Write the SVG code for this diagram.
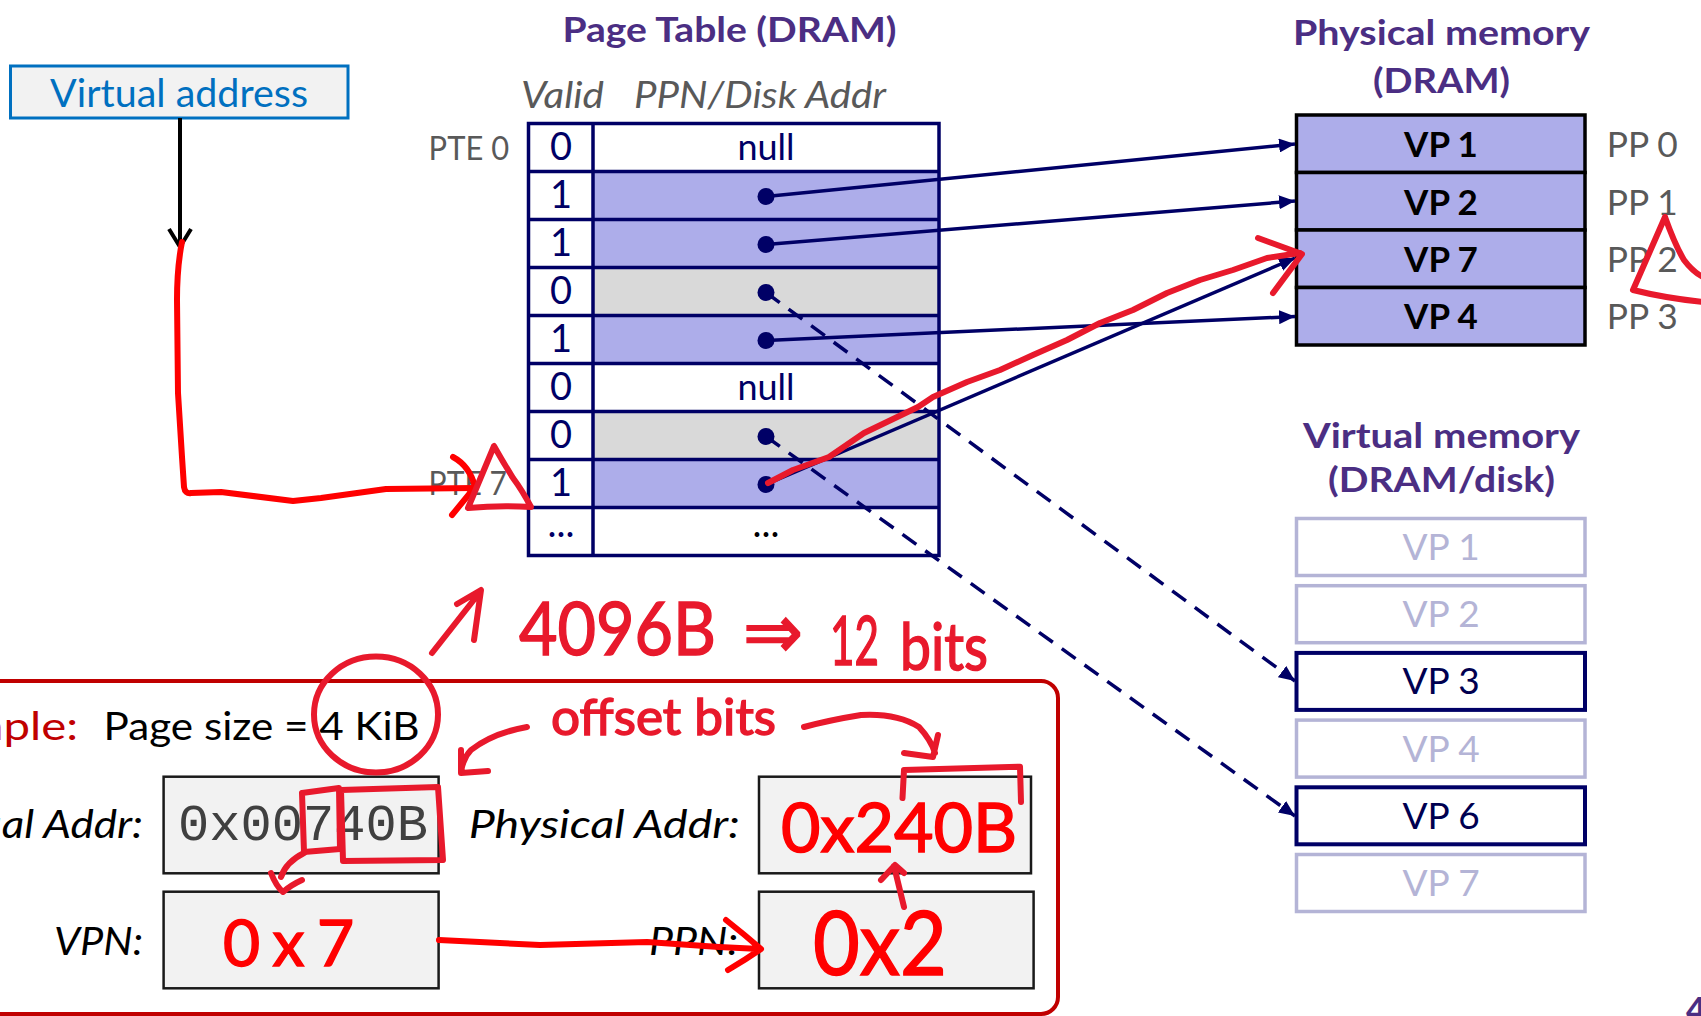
<svg xmlns="http://www.w3.org/2000/svg" width="1701" height="1016" viewBox="0 0 1701 1016">
<defs>
<style>
text{font-family:Lato,'Open Sans','DejaVu Sans',sans-serif}
.ttl{font-weight:700;fill:#4b2e83;font-size:35px}
.hdr{font-style:italic;font-size:37px;fill:#595959}
.pte{font-size:32px;fill:#595959}
.dig{font-size:38px;fill:#000066;text-anchor:middle}
.nul{font-size:36px;fill:#000066;text-anchor:middle}
.cell{fill:none;stroke:#000066;stroke-width:3.5}
.lav{fill:#adadea}
.gry{fill:#d9d9d9}
.pm{fill:#adadea;stroke:#000;stroke-width:3.5}
.pml{font-size:35px;font-weight:700;fill:#000;text-anchor:middle}
.ppl{font-size:35px;fill:#595959}
.vmf{fill:#fff;stroke:#b4b4d6;stroke-width:3.5}
.vmd{fill:#fff;stroke:#000066;stroke-width:4}
.vmft{font-size:37px;fill:#b4b4d6;text-anchor:middle}
.vmdt{font-size:37px;fill:#000050;text-anchor:middle}
.lnk{stroke:#000066;stroke-width:3.5;fill:none}
.dash{stroke-dasharray:17 11}
.ex{font-size:39px;fill:#000}
.exi{font-size:39px;font-style:italic;fill:#000}
.abox{fill:#f2f2f2;stroke:#1a1a1a;stroke-width:2.5}
.pen{fill:none;stroke:#e8192c;stroke-width:6;stroke-linecap:round;stroke-linejoin:round}
.pen2{fill:none;stroke:#ff0000;stroke-width:6;stroke-linecap:round;stroke-linejoin:round}
.hw{fill:#e8192c;stroke:#e8192c;stroke-width:1.5}
.hw2{fill:#ff0000;stroke:#ff0000;stroke-width:1.5}
</style>
<marker id="ah" viewBox="0 0 16 14" markerWidth="16" markerHeight="14" refX="16" refY="7" orient="auto" markerUnits="userSpaceOnUse"><path d="M0,0 L16,7 L0,14 Z" fill="#000066"/></marker>
</defs>
<rect width="1701" height="1016" fill="#fff"/>

<g id="virtual-address">
<rect x="10.5" y="66" width="337.5" height="52" fill="#f2f2f2" stroke="#0070c0" stroke-width="3"/>
<text x="50" y="106.5" font-size="38" fill="#0070c0" textLength="258" lengthAdjust="spacingAndGlyphs">Virtual address</text>
</g>

<g id="page-table">
<text class="ttl" x="562.5" y="42" textLength="334" lengthAdjust="spacingAndGlyphs">Page Table (DRAM)</text>
<text class="hdr" x="521" y="108" textLength="83" lengthAdjust="spacingAndGlyphs">Valid</text>
<text class="hdr" x="634" y="108" textLength="252" lengthAdjust="spacingAndGlyphs">PPN/Disk Addr</text>
<text class="pte" x="428.6" y="160" textLength="80.5" lengthAdjust="spacingAndGlyphs">PTE 0</text>
<text class="pte" x="428.6" y="495" textLength="78.5" lengthAdjust="spacingAndGlyphs">PTE 7</text>
<rect x="528.5" y="123.5" width="410.5" height="432" fill="#fff"/>
<rect class="lav" x="593" y="171.5" width="346" height="48"/>
<rect class="lav" x="593" y="219.5" width="346" height="48"/>
<rect class="gry" x="593" y="267.5" width="346" height="48"/>
<rect class="lav" x="593" y="315.5" width="346" height="48"/>
<rect class="gry" x="593" y="411.5" width="346" height="48"/>
<rect class="lav" x="593" y="459.5" width="346" height="48"/>
<rect class="cell" x="528.5" y="123.5" width="410.5" height="432"/>
<path class="cell" d="M593,123.5V555.5 M528.5,171.5H939 M528.5,219.5H939 M528.5,267.5H939 M528.5,315.5H939 M528.5,363.5H939 M528.5,411.5H939 M528.5,459.5H939 M528.5,507.5H939"/>
<text class="dig" x="561" y="160">0</text>
<text class="dig" x="561" y="208">1</text>
<text class="dig" x="561" y="256">1</text>
<text class="dig" x="561" y="304">0</text>
<text class="dig" x="561" y="352">1</text>
<text class="dig" x="561" y="400">0</text>
<text class="dig" x="561" y="448">0</text>
<text class="dig" x="561" y="496">1</text>
<text class="dig" x="561" y="537">...</text>
<text class="nul" x="766" y="160">null</text>
<text class="nul" x="766" y="400">null</text>
<text x="766" y="537" font-size="38" fill="#000" text-anchor="middle">...</text>
<g fill="#000066">
<circle cx="766" cy="196.5" r="8.5"/>
<circle cx="766" cy="244.5" r="8.5"/>
<circle cx="766" cy="292.5" r="8.5"/>
<circle cx="766" cy="340.5" r="8.5"/>
<circle cx="766" cy="436.5" r="8.5"/>
<circle cx="766" cy="484.5" r="8.5"/>
</g>
</g>

<g id="physical-memory">
<text class="ttl" x="1293" y="45" textLength="297" lengthAdjust="spacingAndGlyphs">Physical memory</text>
<text class="ttl" x="1373" y="93" textLength="137" lengthAdjust="spacingAndGlyphs">(DRAM)</text>
<rect class="pm" x="1296.5" y="115" width="288.5" height="57.5"/>
<rect class="pm" x="1296.5" y="172.5" width="288.5" height="57.5"/>
<rect class="pm" x="1296.5" y="230" width="288.5" height="57.5"/>
<rect class="pm" x="1296.5" y="287.5" width="288.5" height="57.5"/>
<text class="pml" x="1441" y="157">VP 1</text>
<text class="pml" x="1441" y="214.5">VP 2</text>
<text class="pml" x="1441" y="272">VP 7</text>
<text class="pml" x="1441" y="329">VP 4</text>
<text class="ppl" x="1606.7" y="157" textLength="71" lengthAdjust="spacingAndGlyphs">PP 0</text>
<text class="ppl" x="1606.7" y="215" textLength="71" lengthAdjust="spacingAndGlyphs">PP 1</text>
<text class="ppl" x="1606.7" y="272" textLength="71" lengthAdjust="spacingAndGlyphs">PP 2</text>
<text class="ppl" x="1606.7" y="328.5" textLength="71" lengthAdjust="spacingAndGlyphs">PP 3</text>
</g>

<g id="virtual-memory">
<text class="ttl" x="1303" y="448" textLength="277" lengthAdjust="spacingAndGlyphs">Virtual memory</text>
<text class="ttl" x="1328" y="491.5" textLength="227" lengthAdjust="spacingAndGlyphs">(DRAM/disk)</text>
<rect class="vmf" x="1296.5" y="518.5" width="288.5" height="57"/>
<rect class="vmf" x="1296.5" y="585.7" width="288.5" height="57"/>
<rect class="vmd" x="1296.5" y="652.9" width="288.5" height="57"/>
<rect class="vmf" x="1296.5" y="720.1" width="288.5" height="57"/>
<rect class="vmd" x="1296.5" y="787.3" width="288.5" height="57"/>
<rect class="vmf" x="1296.5" y="854.5" width="288.5" height="57"/>
<text class="vmft" x="1441" y="560">VP 1</text>
<text class="vmft" x="1441" y="627.2">VP 2</text>
<text class="vmdt" x="1441" y="694.4">VP 3</text>
<text class="vmft" x="1441" y="761.6">VP 4</text>
<text class="vmdt" x="1441" y="828.8">VP 6</text>
<text class="vmft" x="1441" y="896">VP 7</text>
</g>

<g id="connectors">
<line x1="180" y1="118" x2="180" y2="245" stroke="#000" stroke-width="4"/>
<polyline points="169,229 180,247 191,229" fill="none" stroke="#000" stroke-width="4" stroke-linejoin="miter"/>
<line class="lnk" x1="766" y1="196.5" x2="1295" y2="144" marker-end="url(#ah)"/>
<line class="lnk" x1="766" y1="244.5" x2="1295" y2="201" marker-end="url(#ah)"/>
<line class="lnk" x1="766" y1="340.5" x2="1295" y2="316.5" marker-end="url(#ah)"/>
<line class="lnk" x1="766" y1="484.5" x2="1295" y2="258" marker-end="url(#ah)"/>
<line class="lnk dash" x1="766" y1="292.5" x2="1295" y2="681" marker-end="url(#ah)"/>
<line class="lnk dash" x1="766" y1="436.5" x2="1295" y2="816" marker-end="url(#ah)"/>
</g>

<g id="example">
<rect x="-20" y="681" width="1078" height="333" rx="17" fill="none" stroke="#c00000" stroke-width="4"/>
<text x="-110" y="740" font-size="39" fill="#c00000" textLength="188" lengthAdjust="spacingAndGlyphs">Example:</text>
<text class="ex" x="103.6" y="740" textLength="316" lengthAdjust="spacingAndGlyphs">Page size = 4 KiB</text>
<text class="exi" x="-90" y="838" textLength="233" lengthAdjust="spacingAndGlyphs">Virtual Addr:</text>
<text class="exi" x="54" y="955" textLength="89" lengthAdjust="spacingAndGlyphs">VPN:</text>
<text class="exi" x="468.7" y="838" textLength="271" lengthAdjust="spacingAndGlyphs">Physical Addr:</text>
<text class="exi" x="649" y="955" textLength="89" lengthAdjust="spacingAndGlyphs">PPN:</text>
<rect class="abox" x="163.6" y="776.7" width="275" height="96.6"/>
<rect class="abox" x="163.6" y="891.7" width="275" height="96.6"/>
<rect class="abox" x="759" y="776.7" width="272" height="96.6"/>
<rect class="abox" x="759" y="891.7" width="274.6" height="96.6"/>
<text x="178" y="840" font-size="52" fill="#404040" textLength="250" lengthAdjust="spacingAndGlyphs" style="font-family:'Liberation Mono',monospace">0x00740B</text>
</g>

<text x="1686" y="1022" font-size="34" font-weight="700" fill="#4b2e83">4</text>

<g id="annotations">
<path class="pen2" d="M182,242 C178,262 177,280 177,300 L178,393 L182,457 L184,487 Q185,494 191,493 L221,492 L293,501 L321,498 L386,489 L474,488"/>
<path class="pen2" d="M453,457 C466,464 472,475 475,487 L452,515"/>
<path class="pen" d="M494,446 L468,508 Q500,505 531,507 Q522,490 513,478 Q503,462 494,446 Z"/>
<path class="pen" d="M768,483 L793,470 L829,457 L864,433 L918,407 L933,397 L967,382 L1000,370 L1033,355 L1067,340 L1100,323 L1133,310 L1167,293 L1200,280 L1233,270 L1267,258 L1300,253"/>
<path class="pen" d="M1258,238 L1302,254 L1273,293"/>
<path class="pen" d="M1665,217 L1633,290 Q1665,298 1703,302 M1665,217 Q1675,245 1684,260 Q1693,272 1703,277"/>
<ellipse class="pen" cx="376" cy="714.5" rx="62" ry="58"/>
<path class="pen" d="M432,653 L480,592 M457,604 L481,590 L474,640"/>
<path class="pen" d="M527,727 Q493,733 471,750 Q463,758 461,772 M461,750 L461,773 L488,771"/>
<path class="pen" d="M804,727 Q830,720 861,715 Q897,713 919,727 Q931,740 935,753 M904,753 L933,757 L938,735"/>
<path class="pen" d="M902.5,798 L904,770 L1020,766.7 L1021,802"/>
<path class="pen" d="M302,793 L339,788 L340,849 L304,852 Z"/>
<path class="pen" d="M341,790 L438,787 L443,860 L343,861 Z"/>
<path class="pen" d="M304,853 Q286,862 281,877 M271,873 Q276,886 283,892 Q291,885 302,880"/>
<path class="pen2" d="M439,940 L540,945 L647,942 L719,947 L760,949 M726,920 Q745,935 761,949 Q745,960 728,970"/>
<path class="pen" d="M904,907 L894,866 M881,880 L895,865 L904,873"/>
<text class="hw" x="519" y="655" font-size="74" textLength="197" lengthAdjust="spacingAndGlyphs">4096B</text>
<text class="hw" x="743" y="658" font-size="76" style="font-family:'DejaVu Sans',sans-serif" textLength="60" lengthAdjust="spacingAndGlyphs">⇒</text>
<text class="hw" x="830" y="665" font-size="67" textLength="49" lengthAdjust="spacingAndGlyphs">12</text>
<text class="hw" x="900" y="670" font-size="65" textLength="88" lengthAdjust="spacingAndGlyphs">bits</text>
<text class="hw" x="551" y="735" font-size="51" textLength="225" lengthAdjust="spacingAndGlyphs">offset bits</text>
<text class="hw2" x="781" y="852" font-size="68" textLength="236" lengthAdjust="spacingAndGlyphs">0x240B</text>
<text class="hw2" x="223" y="966" font-size="64" textLength="131" lengthAdjust="spacing">0x7</text>
<text class="hw2" x="813" y="975" font-size="90" textLength="134" lengthAdjust="spacingAndGlyphs">0x2</text>
</g>
</svg>
